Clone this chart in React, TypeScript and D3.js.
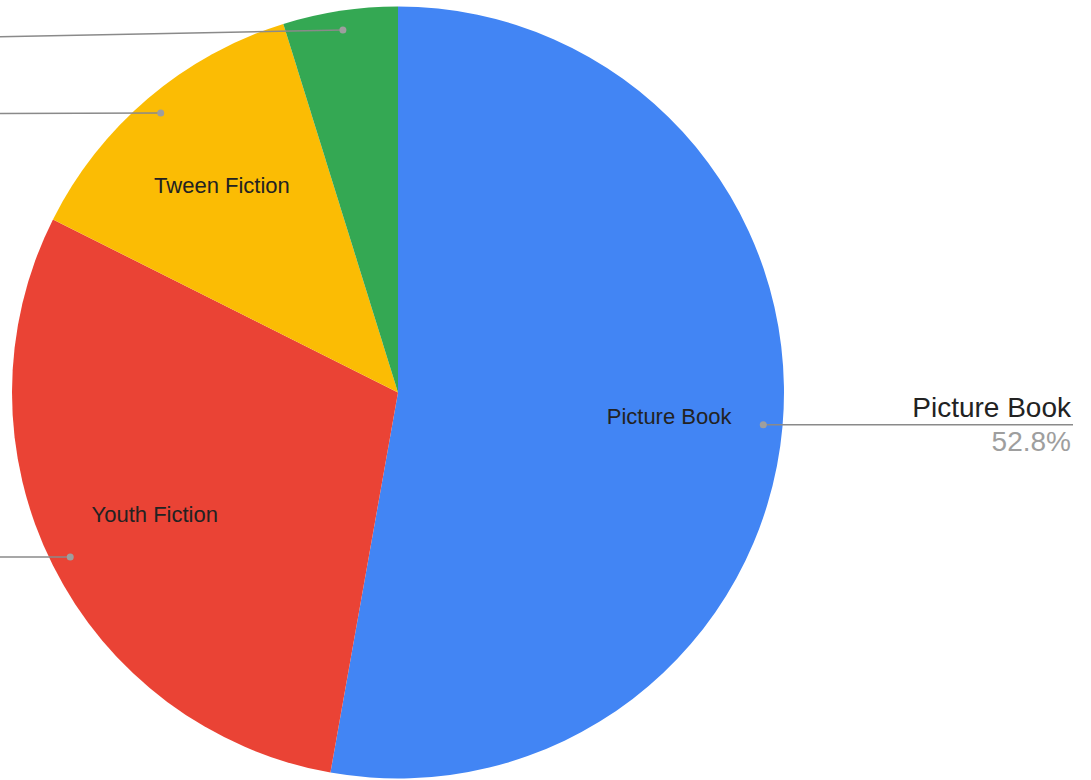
import React from "react";
import * as d3 from "d3";

const categories = ["Picture Book", "Youth Fiction", "Tween Fiction", "Other"];
const values = [52.8, 29.6, 12.8, 4.8];
const colors = ["#4285F4", "#EA4335", "#FBBC04", "#34A853"];
const innerLabelShown = [true, true, true, false];
const outerSide = ["right", "left", "left", "left"];
// vertical shift of the outer (leader line) end, px
const leaderEndShift = [0, 0, 0.5, 7];

const W = 1091;
const H = 780;
const cx = 398;
const cy = 392.5;
const R = 386;

export default function App() {
  const pie = d3
    .pie<number>()
    .sort(null)
    .value((d) => d)
    .startAngle(0)
    .endAngle(2 * Math.PI);
  const arcs = pie(values);
  const arc = d3.arc<d3.PieArcDatum<number>>().innerRadius(0).outerRadius(R);
  const total = d3.sum(values);

  const pt = (a: number, r: number) => [Math.sin(a) * r, -Math.cos(a) * r];

  return (
    <svg
      width={W}
      height={H}
      style={{ position: "fixed", left: 0, top: 0, background: "#fff" }}
      fontFamily="Liberation Sans, Arial, sans-serif"
    >
      <g transform={`translate(${cx},${cy})`}>
        {arcs.map((a, i) => (
          <path key={i} d={arc(a) || ""} fill={colors[i]} />
        ))}
        {arcs.map((a, i) => {
          const mid = (a.startAngle + a.endAngle) / 2;
          if (!innerLabelShown[i]) return null;
          const [x, y] = pt(mid, R * 0.705);
          return (
            <text
              key={"l" + i}
              x={x}
              y={y}
              textAnchor="middle"
              dominantBaseline="central"
              fontSize={22}
              fill="#222"
            >
              {categories[i]}
            </text>
          );
        })}
        {arcs.map((a, i) => {
          const mid = (a.startAngle + a.endAngle) / 2;
          const [x, y] = pt(mid, R * 0.95);
          const endX = outerSide[i] === "right" ? W - 18 - cx : -cx - 5;
          const endY = y + leaderEndShift[i];
          return (
            <g key={"o" + i}>
              <line x1={x} y1={y} x2={endX} y2={endY} stroke="#8a8a8a" strokeWidth={1.5} />
              <circle cx={x} cy={y} r={3.5} fill="#9e9e9e" />
              {outerSide[i] === "right" && (
                <>
                  <text x={endX - 2} y={endY - 8} textAnchor="end" fontSize={28} fill="#222">
                    {categories[i]}
                  </text>
                  <text x={endX - 2} y={endY + 26} textAnchor="end" fontSize={28} fill="#9e9e9e">
                    {d3.format(".1%")(values[i] / total)}
                  </text>
                </>
              )}
            </g>
          );
        })}
      </g>
    </svg>
  );
}
